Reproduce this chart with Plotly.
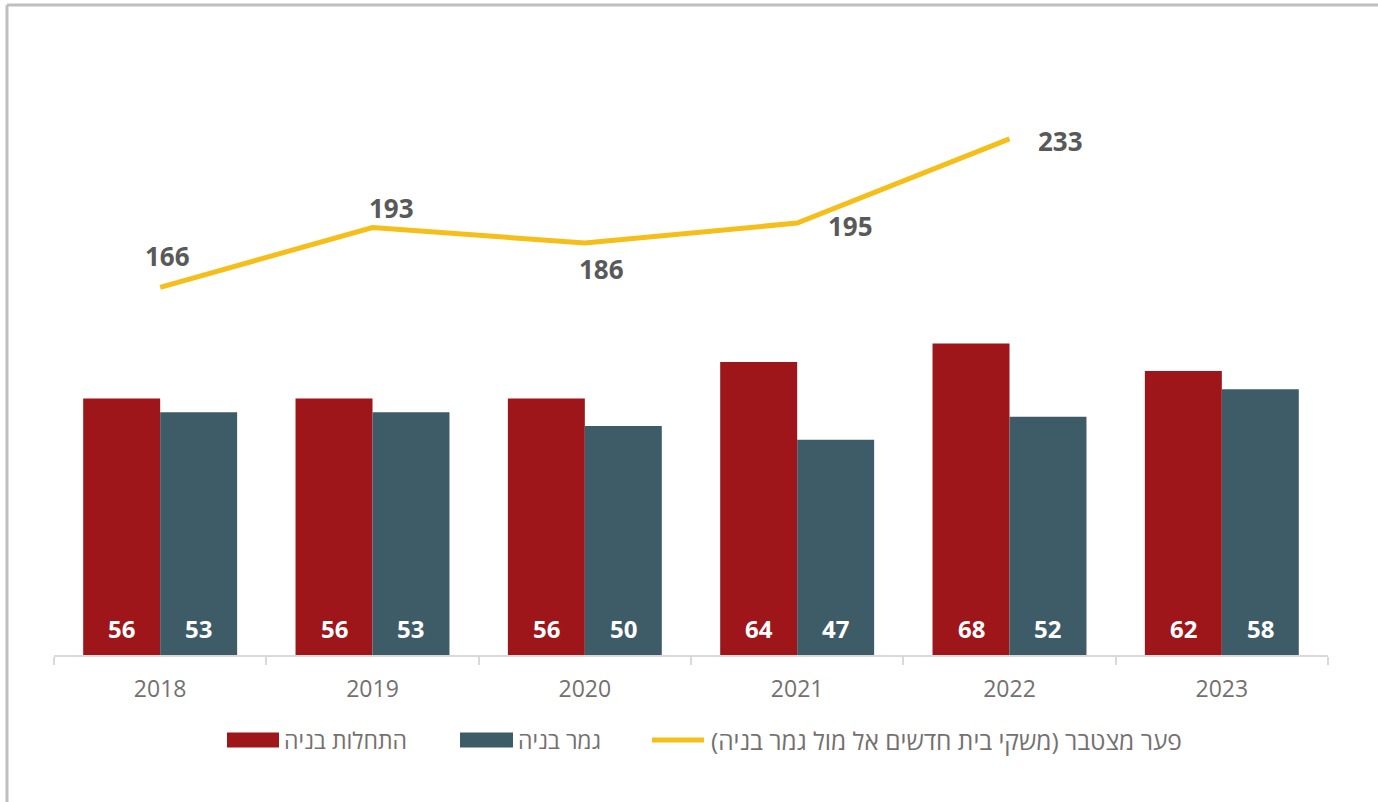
import plotly.graph_objects as go

years = ["2018", "2019", "2020", "2021", "2022", "2023"]
starts = [56, 56, 56, 64, 68, 62]          # התחלות בניה
completions = [53, 53, 50, 47, 52, 58]     # גמר בניה
gap = [166, 193, 186, 195, 233, None]      # פער מצטבר

name_starts = "התחלות בניה"
name_compl = "גמר בניה"
name_gap = "פער מצטבר (משקי בית חדשים אל מול גמר בניה)"

RED = "#9E151A"
TEAL = "#3E5C68"
YEL = "#F5BE18"
GRAY_TXT = "#747070"
LBL = "#595959"
FONT = "Open Sans"

W, H = 1378, 802
L, R, T, B = 54, 50, 60, 147
PW, PH = W - L - R, H - T - B

def px(x):
    return (x - L) / PW

def py(y):
    return (H - B - y) / PH

fig = go.Figure()
fig.add_trace(go.Bar(x=years, y=starts, name=name_starts, marker=dict(color=RED, line=dict(width=0)),
                     showlegend=False, hoverinfo="y"))
fig.add_trace(go.Bar(x=years, y=completions, name=name_compl, marker=dict(color=TEAL, line=dict(width=0)),
                     showlegend=False, hoverinfo="y"))
fig.add_trace(go.Scatter(x=years, y=gap, name=name_gap, mode="lines", yaxis="y2",
                         line=dict(color=YEL, width=5), showlegend=False))

annotations = []
half = PW / 6 * (1 - 0.275) / 4
for i, (a, b) in enumerate(zip(starts, completions)):
    annotations.append(dict(x=i, y=0, xref="x", yref="y", text=f"<b>{a}</b>", showarrow=False,
                            xshift=-half, yshift=27, xanchor="center", yanchor="middle",
                            font=dict(family=FONT, size=24, color="white")))
    annotations.append(dict(x=i, y=0, xref="x", yref="y", text=f"<b>{b}</b>", showarrow=False,
                            xshift=half, yshift=27, xanchor="center", yanchor="middle",
                            font=dict(family=FONT, size=24, color="white")))

shifts = [(7, 31), (19, 20), (17, -26), (53, -3), (51, -2)]
for i, (v, (dx, dy)) in enumerate(zip(gap, shifts)):
    if v is None:
        continue
    annotations.append(dict(x=i, y=v, xref="x", yref="y2", text=f"<b>{v}</b>", showarrow=False,
                            xshift=dx, yshift=dy, xanchor="center", yanchor="middle",
                            font=dict(family=FONT, size=26, color=LBL)))

# custom legend
leg_y = 740
legend_items = [
    (name_starts, 227, 279, "rect", RED, 23),
    (name_compl, 460, 513, "rect", TEAL, 23),
    (name_gap, 650, 706, "line", YEL, 24.5),
]
shapes = []
for name, x0, x1, kind, col, fs in legend_items:
    if kind == "rect":
        shapes.append(dict(type="rect", xref="paper", yref="paper", x0=px(x0), x1=px(x1),
                           y0=py(leg_y + 7.5), y1=py(leg_y - 7.5), fillcolor=col, line=dict(width=0)))
    else:
        shapes.append(dict(type="line", xref="paper", yref="paper", x0=px(x0 + 2), x1=px(x1 - 2),
                           y0=py(leg_y), y1=py(leg_y), line=dict(color=col, width=5)))
    annotations.append(dict(x=px(x1 + 3), y=py(leg_y), xref="paper", yref="paper", text=name,
                            showarrow=False, xanchor="left", yanchor="middle",
                            font=dict(family=FONT, size=fs, color=GRAY_TXT)))

# outer frame (top and left edges visible)
shapes.append(dict(type="line", xref="paper", yref="paper", x0=px(7), x1=px(1390),
                   y0=py(5), y1=py(5), line=dict(color="#BFBFBF", width=3)))
shapes.append(dict(type="line", xref="paper", yref="paper", x0=px(7), x1=px(7),
                   y0=py(5), y1=py(810), line=dict(color="#BFBFBF", width=3)))

fig.update_layout(
    width=W, height=H,
    margin=dict(l=L, r=R, t=T, b=B, autoexpand=False),
    paper_bgcolor="white", plot_bgcolor="white",
    barmode="group", bargap=0.275, bargroupgap=0,
    font=dict(family=FONT, color=GRAY_TXT),
    xaxis=dict(type="category", range=[-0.5, 5.5], autorange=False, showline=True,
               linecolor="#D9D9D9", linewidth=2,
               ticks="outside", tickson="boundaries", ticklen=8, tickcolor="#D9D9D9", tickwidth=2,
               tickfont=dict(family=FONT, size=23, color=GRAY_TXT), showgrid=False,
               ticklabelstandoff=12, tickangle=0),
    yaxis=dict(range=[0, PH / 4.58], autorange=False, visible=False, showgrid=False, zeroline=False),
    yaxis2=dict(range=[0, PH / 2.215], autorange=False, overlaying="y", side="right", visible=False,
                showgrid=False, zeroline=False),
    showlegend=False,
    annotations=annotations,
    shapes=shapes,
)

fig.write_html("out.html", config={"displayModeBar": False},
               post_script="document.body.style.margin='0';")
